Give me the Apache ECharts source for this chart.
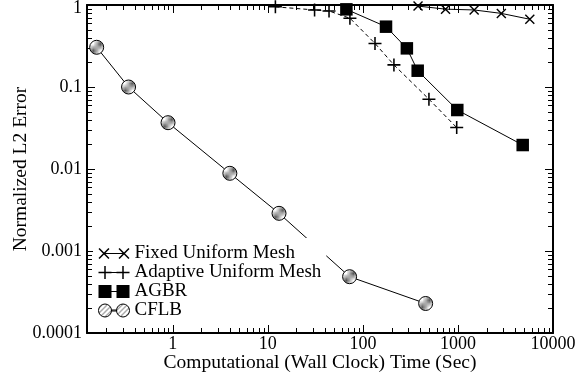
<!DOCTYPE html>
<html><head><meta charset="utf-8">
<script src="https://cdn.jsdelivr.net/npm/echarts@6/dist/echarts.min.js"></script>
<style>html,body{margin:0;padding:0;background:#fff}#c{width:579px;height:379px}</style>
</head><body><div id="c"></div>
<script>
// ---- data ----
const seriesNames = ['Fixed Uniform Mesh', 'Adaptive Uniform Mesh', 'AGBR', 'CFLB'];
const fixedX = [380, 740, 1480, 2860, 5700];
const fixedY = [0.97, 0.89, 0.87, 0.79, 0.67];
const adaptiveX = [12, 31, 44, 73, 134, 212, 495, 970];
const adaptiveY = [0.95, 0.87, 0.845, 0.69, 0.34, 0.186, 0.071, 0.032];
const agbrX = [67, 175, 290, 377, 984, 4800];
const agbrY = [0.885, 0.544, 0.296, 0.158, 0.0524, 0.0196];
const cflbX = [0.158, 0.342, 0.89, 3.98, 13.1, 72.4, 457];
const cflbY = [0.305, 0.1, 0.0367, 0.00886, 0.00288, 0.000486, 0.000229];
const xTickLabels = ['1', '10', '100', '1000', '10000'];
const yTickLabels = ['0.0001', '0.001', '0.01', '0.1', '1'];

const X_MIN = 0.125, X_MAX = 10000, Y_MIN = 0.0001, Y_MAX = 1;
const FONT = '"Liberation Serif"';
const MINOR_LEN = 4;

function zip(xs, ys) { return xs.map((x, i) => [x, ys[i]]); }

// minor tick positions (2..9 x 10^k) inside the axis ranges
function minorValues(lo, hi) {
  const out = [];
  for (let k = Math.floor(Math.log10(lo)); k < Math.ceil(Math.log10(hi)); k++) {
    for (let m = 2; m <= 9; m++) {
      const v = m * Math.pow(10, k);
      if (v > lo && v < hi) out.push(v);
    }
  }
  return out;
}
const xMinor = minorValues(X_MIN, X_MAX);
const yMinor = minorValues(Y_MIN, Y_MAX);

// hatch pattern for CFLB markers
const P = 5;
const pc = document.createElement('canvas');
pc.width = P; pc.height = P;
const g = pc.getContext('2d');
g.fillStyle = '#fff'; g.fillRect(0, 0, P, P);
g.strokeStyle = '#555'; g.lineWidth = 1;
g.beginPath();
g.moveTo(0, P); g.lineTo(P, 0);
g.moveTo(-1, 1); g.lineTo(1, -1);
g.moveTo(P - 1, P + 1); g.lineTo(P + 1, P - 1);
g.stroke();
const hatch = { image: pc, repeat: 'repeat' };

const plusPath = 'path://M0,44H100V56H0Z M44,0H56V100H44Z';
const crossPath = 'path://M0,10L10,0L100,90L90,100Z M90,0L100,10L10,100L0,90Z';

const iconFixed = 'path://M0,1.1L1.1,0L11,9.9L9.9,11Z M9.9,0L11,1.1L1.1,11L0,9.9Z M5.5,5H25.5V6H5.5Z M20,1.1L21.1,0L31,9.9L29.9,11Z M29.9,0L31,1.1L21.1,11L20,9.9Z';
const iconAdaptive = 'path://M0,5.75H13V7.25H0Z M5.75,0H7.25V13H5.75Z M6.5,6H24.5V7H6.5Z M18,5.75H31V7.25H18Z M23.75,0H25.25V13H23.75Z';
const iconAgbr = 'path://M0,0H13V13H0Z M13,6H18V7H13Z M18,0H31V13H18Z';
const iconCflb = 'path://M0,6.5A6.5,6.5 0 1,1 13,6.5A6.5,6.5 0 1,1 0,6.5Z M13,6H18V7H13Z M18,6.5A6.5,6.5 0 1,1 31,6.5A6.5,6.5 0 1,1 18,6.5Z';

function snap(v) { return Math.round(v) + 0.5; }

function xMinorRender(params, api) {
  const v = api.value(0);
  const b = api.coord([v, Y_MIN]);
  const t = api.coord([v, Y_MAX]);
  const x = snap(b[0]);
  return { type: 'group', children: [
    { type: 'line', shape: { x1: x, y1: b[1], x2: x, y2: b[1] - MINOR_LEN - 1 }, style: { stroke: '#000', lineWidth: 1 } },
    { type: 'line', shape: { x1: x, y1: t[1], x2: x, y2: t[1] + MINOR_LEN + 1 }, style: { stroke: '#000', lineWidth: 1 } }
  ]};
}
function yMinorRender(params, api) {
  const v = api.value(1);
  const l = api.coord([X_MIN, v]);
  const r = api.coord([X_MAX, v]);
  const y = snap(l[1]);
  return { type: 'group', children: [
    { type: 'line', shape: { x1: l[0], y1: y, x2: l[0] + MINOR_LEN + 1, y2: y }, style: { stroke: '#000', lineWidth: 1 } },
    { type: 'line', shape: { x1: r[0], y1: y, x2: r[0] - MINOR_LEN - 1, y2: y }, style: { stroke: '#000', lineWidth: 1 } }
  ]};
}

function labelFor(list) {
  return function (v) {
    const s = list.find(t => Math.abs(Math.log10(Number(t)) - Math.log10(v)) < 1e-6);
    return s || '';
  };
}
const xLabel = labelFor(xTickLabels);
const yLabelBase = labelFor(yTickLabels);

const axisLineStyle = { show: true, lineStyle: { color: '#000', width: 2 } };
const axisTickStyle = { show: true, inside: true, length: 8, lineStyle: { color: '#000', width: 1 } };

const chart = echarts.init(document.getElementById('c'), null, { renderer: 'canvas' });
chart.setOption({
  animation: false,
  backgroundColor: '#fff',
  textStyle: { fontFamily: FONT },
  grid: { left: 87, right: 26, top: 5, bottom: 46, containLabel: false, outerBoundsMode: 'none' },
  xAxis: [
    { type: 'log', logBase: 10, min: X_MIN, max: X_MAX, position: 'bottom',
      name: 'Computational (Wall Clock) Time (Sec)', nameLocation: 'middle', nameGap: 20, nameMoveOverlap: false,
      nameTextStyle: { fontFamily: FONT, fontSize: 19.5, color: '#000' },
      axisLine: axisLineStyle, axisTick: axisTickStyle, splitLine: { show: false },
      axisLabel: { show: true, margin: 2, showMinLabel: false, fontFamily: FONT, fontSize: 18, color: '#000', formatter: xLabel } },
    { type: 'log', logBase: 10, min: X_MIN, max: X_MAX, position: 'top',
      axisLine: axisLineStyle, axisTick: axisTickStyle, splitLine: { show: false }, axisLabel: { show: false } }
  ],
  yAxis: [
    { type: 'log', logBase: 10, min: Y_MIN, max: Y_MAX, position: 'left',
      name: 'Normalized L2 Error', nameLocation: 'middle', nameGap: 56, nameRotate: 90, nameMoveOverlap: false,
      nameTextStyle: { fontFamily: FONT, fontSize: 19.5, color: '#000' },
      axisLine: axisLineStyle, axisTick: axisTickStyle, splitLine: { show: false },
      axisLabel: { show: true, margin: 5, fontFamily: FONT, fontSize: 18, color: '#000',
        formatter: function (v) { const s = yLabelBase(v); return s === '1' ? '{t|1}' : s; },
        rich: { t: { fontFamily: FONT, fontSize: 18, color: '#000', padding: [7, 0, 0, 0] } } } },
    { type: 'log', logBase: 10, min: Y_MIN, max: Y_MAX, position: 'right',
      axisLine: axisLineStyle, axisTick: axisTickStyle, splitLine: { show: false }, axisLabel: { show: false } }
  ],
  legend: {
    orient: 'vertical', left: 93, top: 238, padding: [6, 5, 4, 5],
    itemWidth: 31, itemHeight: 14, itemGap: 0, selectedMode: false,
    backgroundColor: '#fff',
    textStyle: { fontFamily: FONT, fontSize: 19, color: '#000' },
    data: [
      { name: seriesNames[0], icon: iconFixed, itemStyle: { color: '#000', borderWidth: 0 } },
      { name: seriesNames[1], icon: iconAdaptive, itemStyle: { color: '#000', borderWidth: 0 } },
      { name: seriesNames[2], icon: iconAgbr, itemStyle: { color: '#000', borderWidth: 0 } },
      { name: seriesNames[3], icon: iconCflb, itemStyle: { color: hatch, borderColor: '#000', borderWidth: 1 } }
    ]
  },
  series: [
    { name: 'xminor', type: 'custom', renderItem: xMinorRender, data: xMinor.map(v => [v, Y_MIN]), silent: true, clip: false, z: 1 },
    { name: 'yminor', type: 'custom', renderItem: yMinorRender, data: yMinor.map(v => [X_MIN, v]), silent: true, clip: false, z: 1 },
    { name: seriesNames[0], type: 'line', data: zip(fixedX, fixedY), symbol: crossPath, symbolSize: 10,
      lineStyle: { color: '#000', width: 1 }, itemStyle: { color: '#000', borderWidth: 0 }, emphasis: { disabled: true } },
    { name: seriesNames[1], type: 'line', data: zip(adaptiveX, adaptiveY), symbol: plusPath, symbolSize: 13,
      lineStyle: { color: '#000', width: 1, type: [4, 3] }, itemStyle: { color: '#000', borderWidth: 0 }, emphasis: { disabled: true } },
    { name: seriesNames[2], type: 'line', data: zip(agbrX, agbrY), symbol: 'rect', symbolSize: 12.5,
      lineStyle: { color: '#000', width: 1 }, itemStyle: { color: '#000', borderWidth: 0 }, emphasis: { disabled: true } },
    { name: seriesNames[3], type: 'line', data: zip(cflbX, cflbY), symbol: 'circle', symbolSize: 14,
      lineStyle: { color: '#000', width: 1 }, itemStyle: { color: hatch, borderColor: '#000', borderWidth: 1 }, emphasis: { disabled: true } }
  ]
});
</script>
</body></html>
